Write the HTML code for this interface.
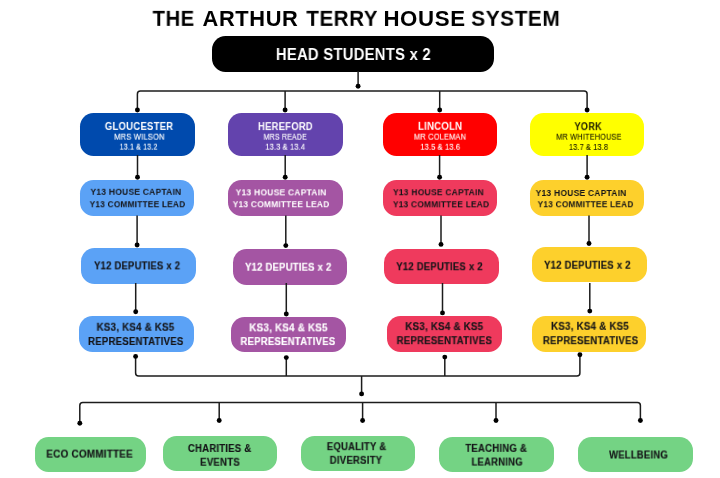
<!DOCTYPE html><html><head><meta charset="utf-8"><style>
html,body{margin:0;padding:0;background:#fff;}body{width:720px;height:478px;position:relative;overflow:hidden;font-family:"Liberation Sans",sans-serif;}
.b{position:absolute;}.t{position:absolute;white-space:nowrap;line-height:1;transform-origin:0 0;will-change:transform;}
</style></head><body>
<div class="b" style="left:212.2px;top:35.8px;width:281.4px;height:35.9px;background:#000000;border-radius:13.5px"></div>
<div class="b" style="left:80.3px;top:112.7px;width:114.7px;height:43.2px;background:#004aad;border-radius:13.5px"></div>
<div class="b" style="left:227.6px;top:112.7px;width:115.1px;height:43.2px;background:#6343ad;border-radius:13.5px"></div>
<div class="b" style="left:382.6px;top:112.7px;width:114.4px;height:43.2px;background:#ff0000;border-radius:13.5px"></div>
<div class="b" style="left:529.7px;top:112.7px;width:114.8px;height:43.2px;background:#ffff00;border-radius:13.5px"></div>
<div class="b" style="left:80.1px;top:180.2px;width:114.4px;height:35.6px;background:#5ba2f6;border-radius:13.5px"></div>
<div class="b" style="left:227.8px;top:180.2px;width:114.8px;height:35.6px;background:#a455a3;border-radius:13.5px"></div>
<div class="b" style="left:382.6px;top:180.2px;width:114.8px;height:35.6px;background:#ef3a5d;border-radius:13.5px"></div>
<div class="b" style="left:529.7px;top:180.2px;width:114.8px;height:35.6px;background:#fdd02c;border-radius:13.5px"></div>
<div class="b" style="left:81.3px;top:248.0px;width:114.7px;height:35.5px;background:#5ba2f6;border-radius:13.5px"></div>
<div class="b" style="left:232.6px;top:248.9px;width:114.8px;height:36.0px;background:#a455a3;border-radius:13.5px"></div>
<div class="b" style="left:384.0px;top:248.5px;width:114.8px;height:35.4px;background:#ef3a5d;border-radius:13.5px"></div>
<div class="b" style="left:532.0px;top:247.0px;width:114.5px;height:35.4px;background:#fdd02c;border-radius:13.5px"></div>
<div class="b" style="left:79.2px;top:316.1px;width:115.1px;height:35.7px;background:#5ba2f6;border-radius:13.5px"></div>
<div class="b" style="left:231.0px;top:316.8px;width:114.5px;height:35.7px;background:#a455a3;border-radius:13.5px"></div>
<div class="b" style="left:386.6px;top:316.1px;width:115.1px;height:35.7px;background:#ef3a5d;border-radius:13.5px"></div>
<div class="b" style="left:531.5px;top:316.4px;width:114.7px;height:35.4px;background:#fdd02c;border-radius:13.5px"></div>
<div class="b" style="left:34.6px;top:437.1px;width:111.9px;height:35.4px;background:#74d384;border-radius:13.5px"></div>
<div class="b" style="left:162.6px;top:435.6px;width:114.8px;height:35.4px;background:#74d384;border-radius:13.5px"></div>
<div class="b" style="left:300.7px;top:435.6px;width:114.8px;height:35.4px;background:#74d384;border-radius:13.5px"></div>
<div class="b" style="left:439.3px;top:437.1px;width:114.8px;height:35.4px;background:#74d384;border-radius:13.5px"></div>
<div class="b" style="left:577.8px;top:437.1px;width:115.2px;height:35.4px;background:#74d384;border-radius:13.5px"></div>
<svg style="position:absolute;left:0;top:0" width="720" height="478" viewBox="0 0 720 478"><path d="M358.1 71V86.3 M137.4 110V94.1Q137.4 91.1 140.4 91.1H584.1Q587.1 91.1 587.1 94.1V110 M285.1 91.1V110 M439.7 91.1V110 M137.5 155V177.2 M285.2 155V177.2 M439.6 155V177.2 M587.1 155V177.2 M137.1 215.5V245 M285.8 215.5V245.6 M441 215.5V244.4 M589 215.5V243.5 M135.7 283V311.8 M286.3 283V314 M442.5 283V312.9 M589.8 283V311.1 M135.6 356.4V373Q135.6 376 138.6 376H576.9Q579.9 376 579.9 373V354.8 M286.3 357.6V376 M444.8 357.1V376 M361.6 376V393.9 M79.8 423.2V405.5Q79.8 402.5 82.8 402.5H637.4Q640.4 402.5 640.4 405.5V420.5 M219.2 402.5V420.5 M362.6 402.5V420.5 M496 402.5V420.5" fill="none" stroke="#1c1c1c" stroke-width="1.5"/><circle cx="358.1" cy="86.3" r="2.45" fill="#000"/><circle cx="137.4" cy="110" r="2.45" fill="#000"/><circle cx="587.1" cy="110" r="2.45" fill="#000"/><circle cx="285.1" cy="110" r="2.45" fill="#000"/><circle cx="439.7" cy="110" r="2.45" fill="#000"/><circle cx="137.5" cy="177.2" r="2.45" fill="#000"/><circle cx="285.2" cy="177.2" r="2.45" fill="#000"/><circle cx="439.6" cy="177.2" r="2.45" fill="#000"/><circle cx="587.1" cy="177.2" r="2.45" fill="#000"/><circle cx="137.1" cy="245" r="2.45" fill="#000"/><circle cx="285.8" cy="245.6" r="2.45" fill="#000"/><circle cx="441" cy="244.4" r="2.45" fill="#000"/><circle cx="589" cy="243.5" r="2.45" fill="#000"/><circle cx="135.7" cy="311.8" r="2.45" fill="#000"/><circle cx="286.3" cy="314" r="2.45" fill="#000"/><circle cx="442.5" cy="312.9" r="2.45" fill="#000"/><circle cx="589.8" cy="311.1" r="2.45" fill="#000"/><circle cx="135.6" cy="356.4" r="2.45" fill="#000"/><circle cx="579.9" cy="354.8" r="2.45" fill="#000"/><circle cx="286.3" cy="357.6" r="2.45" fill="#000"/><circle cx="444.8" cy="357.1" r="2.45" fill="#000"/><circle cx="361.6" cy="393.9" r="2.45" fill="#000"/><circle cx="79.8" cy="423.2" r="2.45" fill="#000"/><circle cx="640.4" cy="420.5" r="2.45" fill="#000"/><circle cx="219.2" cy="420.5" r="2.45" fill="#000"/><circle cx="362.6" cy="420.5" r="2.45" fill="#000"/><circle cx="496" cy="420.5" r="2.45" fill="#000"/></svg>
<div class="t" style="left:152px;top:7px;font-size:21.80px;font-weight:bold;color:#000000;letter-spacing:0.600px;transform:translate(0.591px,0.820px) scaleX(0.9275)">THE</div>
<div class="t" style="left:202px;top:7px;font-size:21.80px;font-weight:bold;color:#000000;letter-spacing:0.600px;transform:translate(0.577px,0.820px) scaleX(1.0018)">ARTHUR</div>
<div class="t" style="left:306px;top:7px;font-size:21.80px;font-weight:bold;color:#000000;letter-spacing:0.600px;transform:translate(0.323px,0.820px) scaleX(0.9427)">TERRY</div>
<div class="t" style="left:383px;top:7px;font-size:21.80px;font-weight:bold;color:#000000;letter-spacing:0.600px;transform:translate(0.433px,0.820px) scaleX(1.0204)">HOUSE</div>
<div class="t" style="left:471px;top:7px;font-size:21.80px;font-weight:bold;color:#000000;letter-spacing:0.600px;transform:translate(0.208px,0.820px) scaleX(0.9557)">SYSTEM</div>
<div class="t" style="left:275px;top:46px;font-size:16.80px;font-weight:bold;color:#ffffff;letter-spacing:0.300px;transform:translate(0.863px,0.953px) scaleX(0.8827)">HEAD STUDENTS x 2</div>
<div class="t" style="left:104px;top:121px;font-size:10.30px;font-weight:bold;color:#ffffff;letter-spacing:0.250px;transform:translate(0.846px,0.907px) scaleX(0.9250)">GLOUCESTER</div>
<div class="t" style="left:258px;top:122px;font-size:10.30px;font-weight:bold;color:#ffffff;letter-spacing:0.250px;transform:translate(0.006px,0.073px) scaleX(0.9181)">HEREFORD</div>
<div class="t" style="left:418px;top:121px;font-size:10.30px;font-weight:bold;color:#ffffff;letter-spacing:0.250px;transform:translate(0.007px,0.780px) scaleX(0.9323)">LINCOLN</div>
<div class="t" style="left:574px;top:122px;font-size:10.30px;font-weight:bold;color:#222200;letter-spacing:0.250px;transform:translate(0.489px,0.139px) scaleX(0.8936)">YORK</div>
<div class="t" style="left:114px;top:133px;font-size:8.20px;font-weight:normal;-webkit-text-stroke:0.12px #ffffff;color:#ffffff;letter-spacing:0.250px;transform:translate(0.190px,0.669px) scaleX(0.9144)">MRS WILSON</div>
<div class="t" style="left:263px;top:133px;font-size:8.20px;font-weight:normal;-webkit-text-stroke:0.12px #ffffff;color:#ffffff;letter-spacing:0.250px;transform:translate(0.596px,0.716px) scaleX(0.8515)">MRS READE</div>
<div class="t" style="left:413px;top:133px;font-size:8.20px;font-weight:normal;-webkit-text-stroke:0.12px #ffffff;color:#ffffff;letter-spacing:0.250px;transform:translate(0.898px,0.642px) scaleX(0.9038)">MR COLEMAN</div>
<div class="t" style="left:556px;top:133px;font-size:8.20px;font-weight:normal;-webkit-text-stroke:0.12px #222200;color:#222200;letter-spacing:0.250px;transform:translate(0.217px,0.714px) scaleX(0.8877)">MR WHITEHOUSE</div>
<div class="t" style="left:119px;top:142px;font-size:8.60px;font-weight:normal;-webkit-text-stroke:0.12px #ffffff;color:#ffffff;letter-spacing:0.250px;transform:translate(0.719px,0.633px) scaleX(0.8090)">13.1 &amp; 13.2</div>
<div class="t" style="left:265px;top:142px;font-size:8.60px;font-weight:normal;-webkit-text-stroke:0.12px #ffffff;color:#ffffff;letter-spacing:0.250px;transform:translate(0.454px,0.724px) scaleX(0.8475)">13.3 &amp; 13.4</div>
<div class="t" style="left:420px;top:142px;font-size:8.60px;font-weight:normal;-webkit-text-stroke:0.12px #ffffff;color:#ffffff;letter-spacing:0.250px;transform:translate(0.453px,0.788px) scaleX(0.8491)">13.5 &amp; 13.6</div>
<div class="t" style="left:569px;top:142px;font-size:8.60px;font-weight:normal;-webkit-text-stroke:0.12px #222200;color:#222200;letter-spacing:0.250px;transform:translate(0.011px,0.974px) scaleX(0.8370)">13.7 &amp; 13.8</div>
<div class="t" style="left:90px;top:186px;font-size:9.50px;font-weight:bold;color:#151518;letter-spacing:0.250px;transform:translate(0.494px,0.754px) scaleX(0.8944)">Y13 HOUSE CAPTAIN</div>
<div class="t" style="left:89px;top:199px;font-size:9.50px;font-weight:bold;color:#151518;letter-spacing:0.250px;transform:translate(0.670px,0.240px) scaleX(0.8734)">Y13 COMMITTEE LEAD</div>
<div class="t" style="left:235px;top:187px;font-size:9.50px;font-weight:bold;color:#ffffff;letter-spacing:0.250px;transform:translate(0.674px,0.367px) scaleX(0.8939)">Y13 HOUSE CAPTAIN</div>
<div class="t" style="left:232px;top:199px;font-size:9.50px;font-weight:bold;color:#ffffff;letter-spacing:0.250px;transform:translate(0.752px,0.249px) scaleX(0.8826)">Y13 COMMITTEE LEAD</div>
<div class="t" style="left:392px;top:187px;font-size:9.50px;font-weight:bold;color:#151518;letter-spacing:0.250px;transform:translate(0.950px,0.233px) scaleX(0.8949)">Y13 HOUSE CAPTAIN</div>
<div class="t" style="left:392px;top:199px;font-size:9.50px;font-weight:bold;color:#151518;letter-spacing:0.250px;transform:translate(0.949px,0.257px) scaleX(0.8789)">Y13 COMMITTEE LEAD</div>
<div class="t" style="left:535px;top:187px;font-size:9.50px;font-weight:bold;color:#151518;letter-spacing:0.250px;transform:translate(0.675px,0.981px) scaleX(0.8939)">Y13 HOUSE CAPTAIN</div>
<div class="t" style="left:537px;top:199px;font-size:9.50px;font-weight:bold;color:#151518;letter-spacing:0.250px;transform:translate(0.670px,0.248px) scaleX(0.8752)">Y13 COMMITTEE LEAD</div>
<div class="t" style="left:94px;top:261px;font-size:10.20px;font-weight:bold;-webkit-text-stroke:0.15px #151518;color:#151518;letter-spacing:0.250px;transform:translate(0.074px,0.353px) scaleX(0.9271)">Y12 DEPUTIES x 2</div>
<div class="t" style="left:245px;top:262px;font-size:10.20px;font-weight:bold;-webkit-text-stroke:0.15px #ffffff;color:#ffffff;letter-spacing:0.250px;transform:translate(0.035px,0.733px) scaleX(0.9304)">Y12 DEPUTIES x 2</div>
<div class="t" style="left:396px;top:262px;font-size:10.20px;font-weight:bold;-webkit-text-stroke:0.15px #151518;color:#151518;letter-spacing:0.250px;transform:translate(0.256px,0.239px) scaleX(0.9315)">Y12 DEPUTIES x 2</div>
<div class="t" style="left:544px;top:260px;font-size:10.20px;font-weight:bold;-webkit-text-stroke:0.15px #151518;color:#151518;letter-spacing:0.250px;transform:translate(0.074px,0.737px) scaleX(0.9325)">Y12 DEPUTIES x 2</div>
<div class="t" style="left:96px;top:322px;font-size:10.10px;font-weight:bold;-webkit-text-stroke:0.15px #151518;color:#151518;letter-spacing:0.250px;transform:translate(0.614px,0.726px) scaleX(0.9614)">KS3, KS4 &amp; KS5</div>
<div class="t" style="left:88px;top:336px;font-size:10.10px;font-weight:bold;-webkit-text-stroke:0.15px #151518;color:#151518;letter-spacing:0.250px;transform:translate(0.065px,0.953px) scaleX(0.9498)">REPRESENTATIVES</div>
<div class="t" style="left:249px;top:323px;font-size:10.10px;font-weight:bold;-webkit-text-stroke:0.15px #ffffff;color:#ffffff;letter-spacing:0.250px;transform:translate(0.318px,0.322px) scaleX(0.9689)">KS3, KS4 &amp; KS5</div>
<div class="t" style="left:240px;top:337px;font-size:10.10px;font-weight:bold;-webkit-text-stroke:0.15px #ffffff;color:#ffffff;letter-spacing:0.250px;transform:translate(0.455px,0.013px) scaleX(0.9448)">REPRESENTATIVES</div>
<div class="t" style="left:405px;top:322px;font-size:10.10px;font-weight:bold;-webkit-text-stroke:0.15px #151518;color:#151518;letter-spacing:0.250px;transform:translate(0.295px,0.115px) scaleX(0.9639)">KS3, KS4 &amp; KS5</div>
<div class="t" style="left:396px;top:336px;font-size:10.10px;font-weight:bold;-webkit-text-stroke:0.15px #151518;color:#151518;letter-spacing:0.250px;transform:translate(0.636px,0.184px) scaleX(0.9498)">REPRESENTATIVES</div>
<div class="t" style="left:551px;top:321px;font-size:10.10px;font-weight:bold;-webkit-text-stroke:0.15px #151518;color:#151518;letter-spacing:0.250px;transform:translate(0.024px,0.810px) scaleX(0.9639)">KS3, KS4 &amp; KS5</div>
<div class="t" style="left:542px;top:336px;font-size:10.10px;font-weight:bold;-webkit-text-stroke:0.15px #151518;color:#151518;letter-spacing:0.250px;transform:translate(0.877px,0.181px) scaleX(0.9498)">REPRESENTATIVES</div>
<div class="t" style="left:46px;top:449px;font-size:10.00px;font-weight:bold;-webkit-text-stroke:0.15px #151518;color:#151518;letter-spacing:0.250px;transform:translate(0.290px,0.573px) scaleX(0.9882)">ECO COMMITTEE</div>
<div class="t" style="left:187px;top:443px;font-size:10.00px;font-weight:bold;-webkit-text-stroke:0.15px #151518;color:#151518;letter-spacing:0.250px;transform:translate(0.903px,0.952px) scaleX(0.9512)">CHARITIES &amp;</div>
<div class="t" style="left:200px;top:457px;font-size:10.00px;font-weight:bold;-webkit-text-stroke:0.15px #151518;color:#151518;letter-spacing:0.250px;transform:translate(0.080px,0.742px) scaleX(0.9619)">EVENTS</div>
<div class="t" style="left:326px;top:442px;font-size:10.00px;font-weight:bold;-webkit-text-stroke:0.15px #151518;color:#151518;letter-spacing:0.250px;transform:translate(0.830px,0.140px) scaleX(0.9447)">EQUALITY &amp;</div>
<div class="t" style="left:329px;top:455px;font-size:10.00px;font-weight:bold;-webkit-text-stroke:0.15px #151518;color:#151518;letter-spacing:0.250px;transform:translate(0.697px,0.756px) scaleX(0.9564)">DIVERSITY</div>
<div class="t" style="left:465px;top:443px;font-size:10.00px;font-weight:bold;-webkit-text-stroke:0.15px #151518;color:#151518;letter-spacing:0.250px;transform:translate(0.326px,0.863px) scaleX(0.9533)">TEACHING &amp;</div>
<div class="t" style="left:471px;top:457px;font-size:10.00px;font-weight:bold;-webkit-text-stroke:0.15px #151518;color:#151518;letter-spacing:0.250px;transform:translate(0.536px,0.525px) scaleX(0.9444)">LEARNING</div>
<div class="t" style="left:609px;top:450px;font-size:10.00px;font-weight:bold;-webkit-text-stroke:0.15px #151518;color:#151518;letter-spacing:0.250px;transform:translate(0.092px,0.456px) scaleX(0.9453)">WELLBEING</div>
</body></html>
